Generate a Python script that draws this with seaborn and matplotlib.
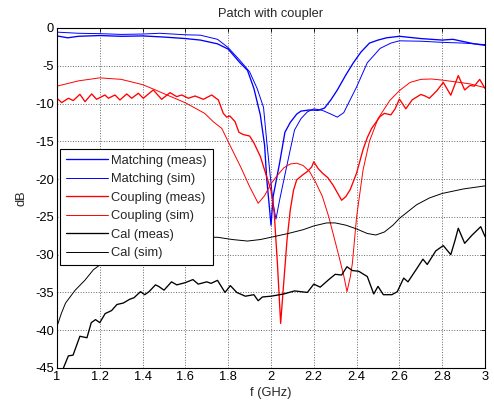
import numpy as np
import pandas as pd
import matplotlib
matplotlib.use("Agg")
import matplotlib.pyplot as plt
import seaborn as sns

# values (f in GHz, level in dB)
match_meas_f = [1.0, 1.05, 1.1, 1.2, 1.3, 1.4, 1.5, 1.6, 1.67, 1.75, 1.8, 1.855, 1.89,
                1.92, 1.95, 1.97, 1.98, 1.995, 2.0, 2.01, 2.04, 2.065, 2.09, 2.12, 2.14,
                2.18, 2.22, 2.25, 2.28, 2.31, 2.35, 2.385, 2.42, 2.46, 2.5, 2.54, 2.6,
                2.7, 2.8, 2.85, 2.9, 2.95, 3.0]
match_meas_db = [-1.05, -1.3, -1.1, -1.0, -1.1, -1.05, -1.2, -1.4, -1.6, -2.1, -2.8, -4.6, -5.6,
                 -8.0, -11.5, -15.5, -20.0, -24.5, -26.1, -22.3, -17.9, -13.8, -12.5, -11.4, -11.0,
                 -10.85, -10.9, -10.6, -9.5, -8.2, -6.2, -4.6, -3.2, -2.0, -1.6, -1.3, -1.1,
                 -1.4, -1.6, -1.5, -1.8, -2.1, -2.3]

match_sim_f = [1.0, 1.1, 1.2, 1.3, 1.4, 1.48, 1.6, 1.67, 1.75, 1.8, 1.855, 1.9, 1.935,
               1.965, 1.98, 1.995, 2.01, 2.023, 2.04, 2.06, 2.09, 2.11, 2.14, 2.17, 2.2,
               2.24, 2.28, 2.31, 2.34, 2.37, 2.4, 2.45, 2.51, 2.56, 2.6, 2.7, 2.8, 2.9, 3.0]
match_sim_db = [-0.55, -0.7, -0.75, -0.85, -0.8, -0.7, -0.9, -0.95, -1.5, -2.6, -4.3, -5.8, -8.0,
                -10.5, -15.0, -19.2, -23.2, -25.3, -22.8, -20.1, -16.1, -13.5, -12.0, -11.1, -10.7,
                -10.9, -11.4, -11.8, -11.2, -9.5, -7.8, -4.6, -2.7, -2.0, -1.7, -1.75, -1.9, -2.0, -2.2]

coup_meas_f = [1.0, 1.022, 1.053, 1.076, 1.107, 1.131, 1.162, 1.185, 1.224, 1.24, 1.271, 1.294,
               1.326, 1.349, 1.38, 1.403, 1.45, 1.489, 1.528, 1.559, 1.583, 1.614, 1.645, 1.684,
               1.723, 1.754, 1.777, 1.793, 1.808, 1.832, 1.85, 1.87, 1.9, 1.92, 1.95, 1.98,
               2.0, 2.015, 2.03, 2.045, 2.06, 2.075, 2.09, 2.105, 2.12, 2.15, 2.17, 2.19, 2.2,
               2.22, 2.24, 2.265, 2.29, 2.31, 2.33, 2.35, 2.37, 2.385, 2.4, 2.43, 2.45, 2.47,
               2.49, 2.51, 2.53, 2.56, 2.58, 2.6, 2.63, 2.66, 2.7, 2.72, 2.74, 2.775, 2.805,
               2.84, 2.875, 2.905, 2.93, 2.95, 2.975, 3.0]
coup_meas_db = [-9.3, -9.88, -9.3, -9.6, -8.78, -9.75, -8.73, -9.44, -8.87, -9.3, -8.87, -9.53,
                -8.73, -9.3, -8.64, -9.3, -8.2, -9.44, -8.56, -9.08, -8.87, -9.3, -9.0, -9.44,
                -8.87, -9.53, -11.3, -11.8, -11.65, -12.4, -13.8, -14.1, -14.3, -15.2, -17.0, -19.7,
                -21.5, -24.5, -31.2, -39.1, -33.5, -28.0, -24.1, -21.5, -20.1, -19.4, -19.0, -18.4, -17.7,
                -18.6, -19.2, -19.8, -20.8, -21.8, -22.8, -22.3, -21.4, -20.3, -19.2, -16.1, -14.5, -13.3,
                -12.5, -11.7, -11.3, -11.5, -10.7, -9.4, -10.7, -9.5, -8.8, -9.0, -9.3, -8.3, -7.2,
                -8.9, -6.3, -8.2, -7.6, -7.7, -6.8, -8.0]

coup_sim_f = [1.0, 1.1, 1.2, 1.3, 1.4, 1.46, 1.5, 1.6, 1.69, 1.73, 1.77, 1.82, 1.86, 1.9,
              1.94, 1.97, 2.0, 2.03, 2.06, 2.09, 2.12, 2.15, 2.18, 2.21, 2.24, 2.27, 2.29,
              2.32, 2.34, 2.355, 2.37, 2.38, 2.4, 2.43, 2.46, 2.5, 2.555, 2.6, 2.65, 2.7,
              2.75, 2.8, 2.88, 2.93, 3.0]
coup_sim_db = [-7.7, -7.0, -6.6, -6.8, -7.5, -8.2, -8.7, -9.9, -11.3, -12.4, -13.3, -16.2, -18.5, -21.0,
               -23.2, -22.2, -20.6, -19.5, -18.5, -18.0, -17.9, -18.2, -19.0, -20.5, -22.3, -25.0, -27.2,
               -30.5, -32.8, -34.9, -33.0, -31.2, -25.0, -18.8, -15.0, -12.0, -9.6, -8.3, -7.2, -6.8,
               -6.75, -6.9, -7.2, -7.4, -7.9]

cal_meas_f = [1.03, 1.053, 1.075, 1.107, 1.14, 1.16, 1.18, 1.2, 1.225, 1.255, 1.28, 1.31, 1.34,
              1.36, 1.39, 1.41, 1.43, 1.46, 1.475, 1.5, 1.535, 1.56, 1.6, 1.635, 1.66, 1.7,
              1.72, 1.75, 1.785, 1.81, 1.84, 1.88, 1.92, 1.94, 1.96, 2.0, 2.06, 2.11, 2.17,
              2.2, 2.23, 2.27, 2.3, 2.33, 2.355, 2.38, 2.41, 2.45, 2.48, 2.5, 2.525, 2.565,
              2.59, 2.62, 2.64, 2.68, 2.71, 2.73, 2.77, 2.805, 2.84, 2.86, 2.875, 2.905, 2.94,
              2.98, 3.0]
cal_meas_db = [-45.0, -43.4, -43.3, -40.8, -41.0, -39.0, -38.6, -39.0, -37.8, -37.4, -36.6, -36.4, -35.9,
               -35.7, -34.9, -35.3, -34.9, -34.0, -34.2, -34.7, -33.6, -34.0, -33.7, -33.3, -33.9, -33.6,
               -33.8, -33.4, -35.0, -34.1, -35.0, -35.5, -35.3, -36.1, -35.6, -35.5, -35.2, -34.8, -35.0,
               -33.9, -34.3, -33.3, -32.6, -32.7, -31.6, -32.1, -32.2, -32.9, -35.2, -34.2, -35.3, -35.3,
               -34.9, -33.1, -33.6, -31.9, -30.6, -31.3, -29.5, -28.8, -30.0, -28.1, -26.5, -28.5, -27.4,
               -26.3, -27.6]

cal_sim_f = [1.0, 1.02, 1.04, 1.085, 1.13, 1.17, 1.25, 1.35, 1.45, 1.55, 1.65, 1.75, 1.82,
             1.89, 1.95, 2.0, 2.08, 2.15, 2.2, 2.26, 2.3, 2.35, 2.4, 2.45, 2.49, 2.53, 2.57,
             2.6, 2.64, 2.68, 2.74, 2.8, 2.9, 3.0]
cal_sim_db = [-39.5, -37.8, -36.4, -34.7, -33.4, -32.0, -30.3, -29.2, -28.5, -28.0, -27.7, -27.7, -28.0,
              -28.2, -28.0, -27.7, -27.2, -26.7, -26.2, -25.8, -25.8, -26.1, -26.6, -27.2, -27.4, -27.0, -26.1,
              -25.2, -24.3, -23.4, -22.5, -21.9, -21.3, -20.9]

x_ticks = [1, 1.2, 1.4, 1.6, 1.8, 2, 2.2, 2.4, 2.6, 2.8, 3]
x_tick_labels = ["1", "1.2", "1.4", "1.6", "1.8", "2", "2.2", "2.4", "2.6", "2.8", "3"]
y_ticks = [-45, -40, -35, -30, -25, -20, -15, -10, -5, 0]
y_tick_labels = ["-45", "-40", "-35", "-30", "-25", "-20", "-15", "-10", "-5", "0"]

series = [
    ("Matching (meas)", match_meas_f, match_meas_db, "#0000ff", 0.95),
    ("Matching (sim)", match_sim_f, match_sim_db, "#0000ff", 0.7),
    ("Coupling (meas)", coup_meas_f, coup_meas_db, "#ff0000", 0.95),
    ("Coupling (sim)", coup_sim_f, coup_sim_db, "#ff0000", 0.7),
    ("Cal (meas)", cal_meas_f, cal_meas_db, "#000000", 0.95),
    ("Cal (sim)", cal_sim_f, cal_sim_db, "#000000", 0.7),
]

sns.set_style("white")
plt.rcParams.update({
    "font.family": ["Liberation Sans", "DejaVu Sans"],
    "font.size": 9.3,
    "axes.unicode_minus": False,
    "xtick.direction": "in",
    "ytick.direction": "in",
    "xtick.top": True,
    "ytick.right": True,
})

fig = plt.figure(figsize=(4.94, 4.05), dpi=100)
ax = fig.add_axes([0.1154, 0.0914, 0.8664, 0.8395])

for name, f, db, color, lw in series:
    df = pd.DataFrame({"f": f, "dB": db})
    sns.lineplot(data=df, x="f", y="dB", ax=ax, color=color, linewidth=lw,
                 label=name, estimator=None, sort=False)

ax.set_xlim(1, 3)
ax.set_ylim(-45, 0)
ax.set_xticks(x_ticks)
ax.set_xticklabels(x_tick_labels)
ax.set_yticks(y_ticks)
ax.set_yticklabels(y_tick_labels)
ax.tick_params(length=3, width=0.6, colors="k", labelsize=9.3, pad=2)
ax.grid(True, linestyle=":", color="0.4", linewidth=0.7)
for s in ax.spines.values():
    s.set_color("k")
    s.set_linewidth(0.8)

ax.set_title("Patch with coupler", fontsize=9.3, pad=8)
ax.set_xlabel("f (GHz)", fontsize=9.3, labelpad=3)
ax.set_ylabel("dB", fontsize=9.3, labelpad=6)

leg = ax.legend(loc="upper left", bbox_to_anchor=(0.008, 0.645), borderaxespad=0,
                fancybox=False, framealpha=1, edgecolor="k", fontsize=9.3,
                handlelength=3.2, handletextpad=0.3, labelspacing=0.5,
                borderpad=0.45)
leg.get_frame().set_linewidth(0.8)

fig.savefig("out.png", dpi=100)
